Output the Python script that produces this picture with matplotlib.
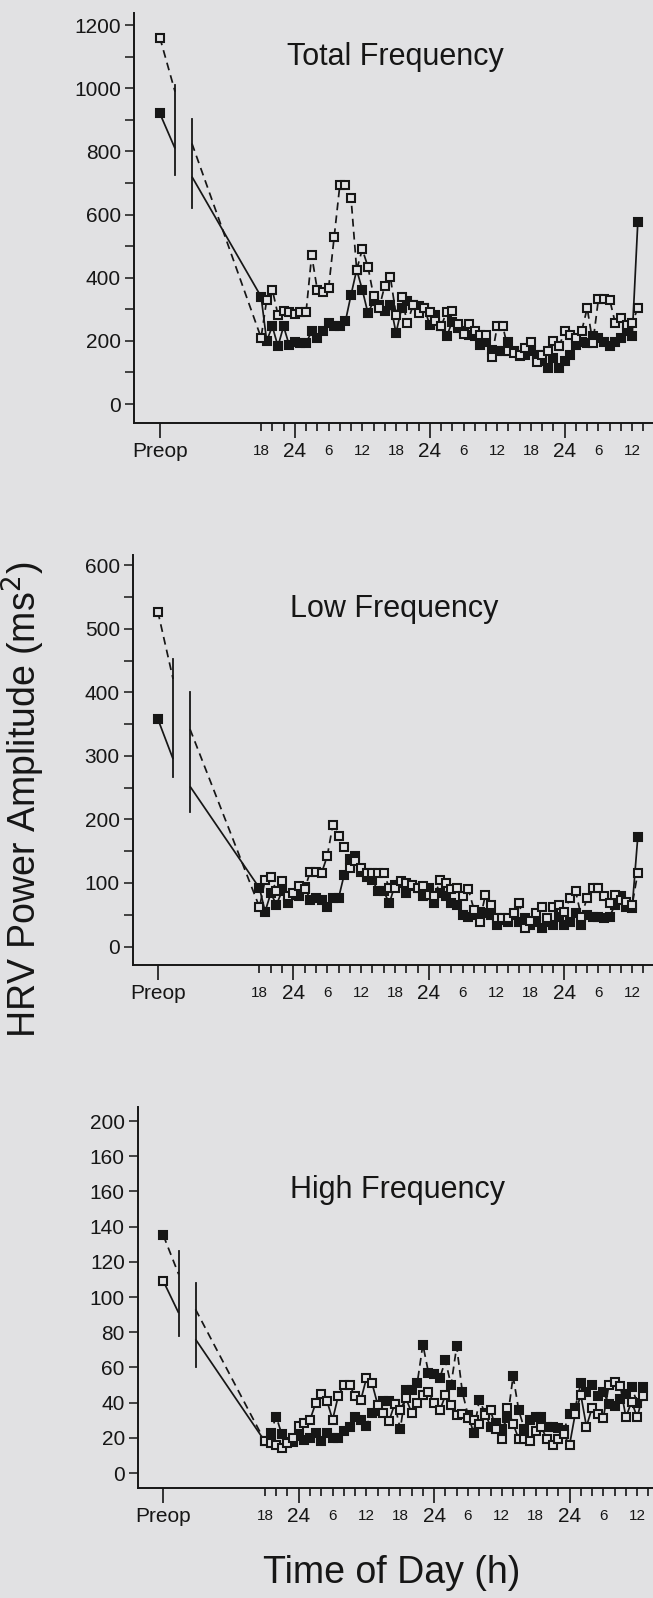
import numpy as np
import matplotlib
matplotlib.use("Agg")
import matplotlib.pyplot as plt

plt.rcParams['font.family'] = ['Liberation Sans', 'DejaVu Sans']

# hourly postoperative samples, hour 18 of day 1 .. hour 85
hours = np.arange(18, 86)
preop_x = 0
cut_x = [2.7, 5.7]

# Total frequency (filled = solid, open = dashed)
tf_filled = [340, 200, 246, 183, 246, 187, 198, 193, 193, 230, 209, 230, 256, 246, 246, 262, 346,
             425, 362, 288, 325, 315, 293, 315, 225, 304, 325, 315, 309, 304, 251, 283, 246, 214,
             261, 240, 230, 220, 214, 188, 198, 172, 167, 167, 198, 167, 151, 156, 167, 156, 135,
             114, 146, 114, 135, 156, 188, 198, 193, 214, 209, 198, 183, 198, 209, 230, 214, 576]
tf_open = [210, 330, 362, 283, 293, 291, 284, 291, 291, 471, 361, 356, 366, 529, 692, 692, 652,
           425, 490, 435, 343, 304, 375, 401, 283, 340, 256, 312, 288, 304, 291, 264, 246, 291,
           293, 253, 222, 253, 232, 219, 219, 148, 246, 246, 167, 161, 156, 177, 196, 133, 156,
           169, 200, 183, 230, 219, 209, 230, 304, 193, 333, 333, 330, 256, 272, 251, 256, 304]
tf_preop = [920, 1160]          # filled, open
tf_cut1 = [725, 1010]
tf_cut2 = [620, 904]
tf_solid_ends = [809, 720]
tf_dash_ends = [989, 825]

# Low frequency
lf_filled = [92, 55, 84, 66, 87, 68, 81, 79, 93, 74, 76, 74, 63, 76, 76, 113, 137, 142, 118,
             110, 105, 87, 87, 68, 97, 100, 84, 95, 92, 79, 92, 68, 84, 79,
             68, 66, 50, 47, 50, 55, 53, 50, 34, 42, 39, 50, 39, 45, 34, 39, 29, 39, 34, 47,
             34, 39, 53, 34, 50, 47, 47, 45, 47, 66, 79, 63, 60, 172]
lf_open = [62, 105, 110, 88, 103, 79, 84, 96, 90, 118, 118, 116, 142, 192, 174, 156, 123, 134,
           124, 116, 116, 116, 116, 92, 92, 103, 100, 97, 92, 95, 81, 79, 104, 100,
           90, 92, 79, 90, 58, 39, 81, 66, 45, 45, 45, 53, 68, 29, 40, 53, 63, 45, 63, 66,
           55, 76, 87, 47, 76, 92, 92, 79, 68, 81, 74, 70, 65, 116]
lf_preop = [358, 527]
lf_cut1 = [266, 453]
lf_cut2 = [211, 400]
lf_solid_ends = [295, 252]
lf_dash_ends = [421, 342]

# High frequency (filled = dashed, open = solid)
hf_filled = [18, 23, 32, 22, 17.5, 17.5, 21, 19, 20, 23, 18, 23, 20, 20, 24, 26, 32, 30, 27, 34,
             35, 41, 41, 39, 25, 47, 47, 51, 73, 57, 56, 54, 64, 50, 72,
             46, 33, 23, 41.5, 34.4, 26.4, 28.2, 25, 31, 55, 35.6, 25, 30, 31.7, 31.7, 26.4, 26,
             25.5, 24.3, 33.5, 37, 51, 46, 50, 44, 46, 39, 38, 42, 45, 49, 40, 49]
hf_open = [18, 17, 16, 14.5, 17, 20, 26.7, 28.5, 30.3, 39.7, 45, 41, 30.3, 43.8, 50.3, 49.8, 43.8,
           41.5, 53.9, 50.9, 38.8, 34.4, 29.6, 39.2, 36, 42.4, 34.4, 39.7, 44.1, 45.9, 39.7, 35.6,
           44.1, 38.8, 33,
           33.5, 31, 30, 28, 33, 35.6, 25, 19.3, 37, 28, 19.3, 19.3, 18.4, 24, 26, 19.3, 15.8,
           19.3, 22, 15.8, 33.5, 44.5, 26.4, 37, 33.5, 31.4, 50.3, 52, 49.4, 31.7, 40.6, 31.7, 44]
hf_preop = [135, 109]
hf_cut1 = [78, 126]
hf_cut2 = [60, 108]
hf_solid_ends = [91, 76]
hf_dash_ends = [113, 93]

BG = '#e1e1e3'
INK = '#161616'
W, H = 653, 1598

fig = plt.figure(figsize=(W / 100, H / 100), dpi=100)
fig.patch.set_facecolor(BG)


def px_axes(left, right, top, bottom):
    return fig.add_axes([left / W, 1 - bottom / H, (right - left) / W, (bottom - top) / H])


def series(ax, pre, ends, vals, filled, dashed):
    ls = (0, (4.5, 3)) if dashed else '-'
    kw = dict(color=INK, lw=1.25, ls=ls, solid_capstyle='butt')
    ax.plot([preop_x, cut_x[0]], [pre, ends[0]], **kw)
    ax.plot([cut_x[1]] + list(hours), [ends[1]] + list(vals), **kw)
    mk = dict(marker='s', ms=5.5, mew=1.5, mec=INK, ls='none',
              mfc=INK if filled else BG, zorder=3 if filled else 4)
    ax.plot([preop_x] + list(hours), [pre] + list(vals), **mk)


def panel(ax, title, ty, filled, open_, preop, cut1, cut2, solid_ends, dash_ends, hf=False):
    ax.set_facecolor('none')
    for s in ['top', 'right']:
        ax.spines[s].set_visible(False)
    for s in ['left', 'bottom']:
        ax.spines[s].set_linewidth(1.4)
        ax.spines[s].set_color(INK)
    # break bars
    ax.plot([cut_x[0], cut_x[0]], cut1, color=INK, lw=1.3)
    ax.plot([cut_x[1], cut_x[1]], cut2, color=INK, lw=1.3)
    if hf:
        series(ax, preop[0], dash_ends, filled, True, True)
        series(ax, preop[1], solid_ends, open_, False, False)
    else:
        series(ax, preop[0], solid_ends, filled, True, False)
        series(ax, preop[1], dash_ends, open_, False, True)

    major = [0, 24, 48, 72]
    ax.set_xticks(major)
    ax.set_xticklabels(['Preop', '24', '24', '24'], fontsize=15)
    minor = [h for h in range(18, 87, 2) if h not in major]
    names = {18: '18', 6: '6', 12: '12'}
    ax.set_xticks(minor, minor=True)
    ax.set_xticklabels([names.get(h % 24, '') if h % 6 == 0 else '' for h in minor],
                       minor=True, fontsize=11)
    ax.tick_params(axis='x', which='major', length=11, width=1.2, pad=3, colors=INK)
    ax.tick_params(axis='x', which='minor', length=6, width=1.2, pad=9, colors=INK)
    ax.tick_params(axis='y', which='both', length=6.5, width=1.1, pad=3, colors=INK,
                   labelsize=15)
    ax.text(0.503, ty, title, transform=ax.transAxes, ha='center', va='center',
            fontsize=22, color=INK)


ax1 = px_axes(134, 653, 13, 423)
panel(ax1, 'Total Frequency', 0.893, tf_filled, tf_open, tf_preop, tf_cut1, tf_cut2,
      tf_solid_ends, tf_dash_ends)
ax1.set_xlim(-4.6, 87.7)
ax1.set_ylim(-60, 1238)
ax1.set_yticks(range(0, 1201, 200))
ax1.set_yticks(range(100, 1200, 200), minor=True)

ax2 = px_axes(133, 653, 555, 965)
panel(ax2, 'Low Frequency', 0.868, lf_filled, lf_open, lf_preop, lf_cut1, lf_cut2,
      lf_solid_ends, lf_dash_ends)
ax2.set_xlim(-4.4, 87.7)
ax2.set_ylim(-29, 616)
ax2.set_yticks(range(0, 601, 100))
ax2.set_yticks(range(50, 600, 100), minor=True)

ax3 = px_axes(138, 653, 1107, 1488)
panel(ax3, 'High Frequency', 0.782, hf_filled, hf_open, hf_preop, hf_cut1, hf_cut2,
      hf_solid_ends, hf_dash_ends, hf=True)
ax3.set_xlim(-4.5, 86.8)
ax3.set_ylim(-8.5, 208)
ax3.set_yticks(range(0, 201, 20))
ax3.set_yticklabels(['0', '20', '40', '60', '80', '100', '120', '140', '160', '160', '200'])

fig.text(23 / W, 1 - 800 / H, 'HRV Power Amplitude (ms$^2$)', rotation=90, ha='center',
         va='center', fontsize=27, color=INK)
fig.text(392 / W, 1 - 1573 / H, 'Time of Day (h)', ha='center', va='center', fontsize=27,
         color=INK)

fig.savefig('out.png', dpi=100, facecolor=BG)
